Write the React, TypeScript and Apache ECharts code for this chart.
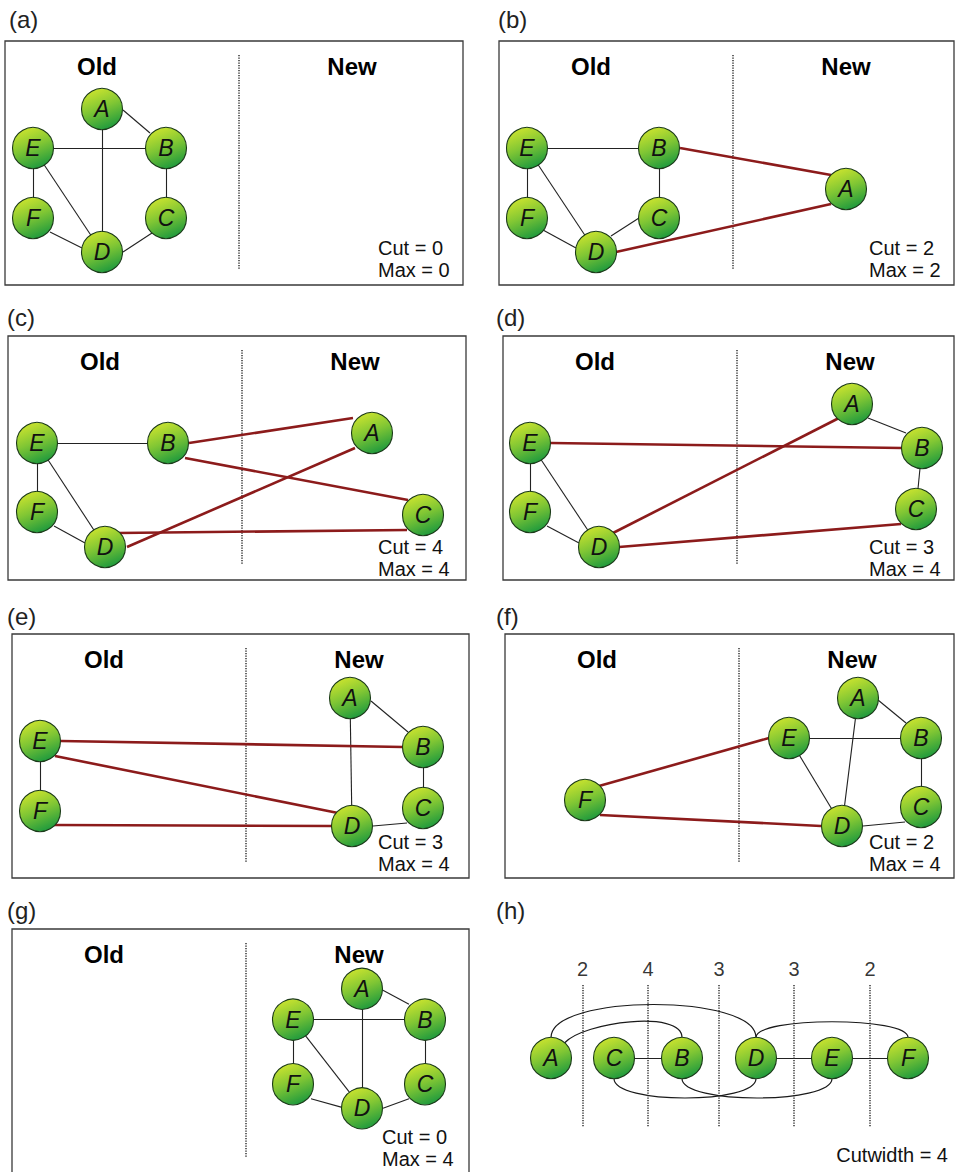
import React, { useEffect, useRef } from "react";
import * as echarts from "echarts";

// ---------- data ----------
type NodePos = [string, number, number];

const panelLabels = ["(a)", "(b)", "(c)", "(d)", "(e)", "(f)", "(g)", "(h)"];
const sideLabels = ["Old", "New"];
const edges: [string, string][] = [
  ["A", "B"], ["A", "D"], ["B", "E"], ["B", "C"],
  ["C", "D"], ["D", "E"], ["D", "F"], ["E", "F"],
];
// node positions inside each panel (panel-local units)
const nodesA: NodePos[] = [["A", 97, 68], ["B", 161, 107], ["C", 161, 177], ["D", 97, 211], ["E", 28, 107], ["F", 28, 177]];
const nodesB: NodePos[] = [["A", 347, 148], ["B", 160, 107], ["C", 160, 177], ["D", 97, 211], ["E", 28, 107], ["F", 28, 177]];
const nodesC: NodePos[] = [["A", 364, 97], ["B", 160, 107], ["C", 415, 179], ["D", 97, 211], ["E", 29, 107], ["F", 29, 176]];
const nodesD: NodePos[] = [["A", 349, 68], ["B", 419, 112], ["C", 413, 173], ["D", 96, 211], ["E", 27, 107], ["F", 27, 176]];
const nodesE: NodePos[] = [["A", 338, 64], ["B", 411, 113], ["C", 411, 174], ["D", 340, 192], ["E", 28, 107], ["F", 28, 177]];
const nodesF: NodePos[] = [["A", 353, 64], ["B", 416, 104], ["C", 416, 173], ["D", 337, 192], ["E", 284, 104], ["F", 80, 166]];
const nodesG: NodePos[] = [["A", 350, 62], ["B", 413, 94], ["C", 413, 161], ["D", 350, 186], ["E", 281, 94], ["F", 281, 161]];
const panelNodes = [nodesA, nodesB, nodesC, nodesD, nodesE, nodesF, nodesG];
// nodes already moved to the "New" side in each step
const newSides: string[][] = [[], ["A"], ["A", "C"], ["A", "B", "C"], ["A", "B", "C", "D"], ["A", "B", "C", "D", "E"], ["A", "B", "C", "D", "E", "F"]];
const cutValues = [0, 2, 4, 3, 3, 2, 0];
const maxValues = [0, 2, 4, 4, 4, 4, 4];
// panel (h): linear arrangement
const linearOrder = ["A", "C", "B", "D", "E", "F"];
const linearX = [75, 138, 206, 280, 356, 432];
const linearY = 168;
const cutCounts = [2, 4, 3, 3, 2];
const cutwidth = 4;

// ---------- layout / style ----------
const FONT = '"Liberation Sans", Arial, Helvetica, sans-serif';
const W = 956;
const H = 1172;
const NODE_R = 20.5;
// [left, top, width, height] of each panel frame
const frames: number[][] = [
  [5, 41, 458, 244], [499, 41, 455, 244],
  [8, 336, 458, 244], [503, 336, 451, 244],
  [12, 634, 457, 244], [505, 634, 449, 244],
  [12, 929, 457, 252], [476, 890, 480, 282],
];
const labelPos = [[9, 19], [498, 19], [7, 317], [496, 317], [7, 616], [496, 616], [7, 910], [496, 910]];
const cutTextPos = [[378, 248], [869, 248], [378, 547], [869, 547], [378, 842], [869, 842], [382, 1137]];
const DIV_X = 234, DIV_Y0 = 14, DIV_Y1 = 228;
const OLD_X = 92, NEW_X = 347, SIDE_Y = 25;
const H_DIV_Y0 = 95, H_DIV_Y1 = 237, H_NUM_Y = 79;
// connector attachment offsets (px from node centre), per panel and edge
const ports: Record<string, number[][]> = {
  "0:A-B": [[21, 1], [-16, -15]], "0:C-D": [[-14, 15], [21, 0]], "0:D-F": [[-20, -4], [17, 14]],
  "1:A-B": [[-15, -14], [21, 0]], "1:A-D": [[-15, 15], [20, 0]], "1:C-D": [[-20, 0], [15, -16]], "1:D-F": [[-20, -4], [16, 12]],
  "2:A-B": [[-19, -15], [21, 0]], "2:A-D": [[-17, 15], [22, 0]], "2:B-C": [[17, 15], [-15, -15]], "2:C-D": [[-16, 15], [13, -14]], "2:D-F": [[-20, -4], [17, 14]],
  "3:A-D": [[-13, 14], [14, -14]], "3:C-D": [[-15, 15], [20, 0]], "3:B-E": [[-20, 0], [21, 0]], "3:A-B": [[16, 14], [-16, -15]], "3:D-F": [[-20, -4], [17, 14]],
  "4:B-E": [[-20, 0], [21, 0]], "4:D-E": [[-14, -13], [15, 15]], "4:D-F": [[-20, 0], [13, 14]], "4:C-D": [[-16, 15], [21, 0]], "4:A-B": [[21, 3], [-15, -15]],
  "5:E-F": [[-20, 0], [14, -14]], "5:D-F": [[-21, 0], [15, 15]], "5:C-D": [[-16, 15], [21, 0]], "5:A-B": [[20, 2], [-15, -15]],
  "6:A-B": [[20, 1], [-16, -16]], "6:C-D": [[-16, 15], [21, 0]], "6:D-F": [[-20, -1], [18, 15]],
};
const arcStyles: Record<string, { dir: number; lift: number; a0: number; a1: number }> = {
  "A-B": { dir: -1, lift: 28, a0: 48, a1: 90 },
  "A-D": { dir: -1, lift: 44, a0: 90, a1: 90 },
  "D-F": { dir: -1, lift: 21, a0: 90, a1: 90 },
  "C-D": { dir: 1, lift: 26, a0: 90, a1: 90 },
  "B-E": { dir: 1, lift: 26, a0: 90, a1: 90 },
};
const BLACK_EDGE = { color: "#222", width: 1.1, opacity: 1 };
const RED_EDGE = { color: "#8c1b1b", width: 2.6, opacity: 1 };

function nodeColor() {
  return new echarts.graphic.LinearGradient(0.2, 0, 0.6, 1, [
    { offset: 0, color: "#d2e62e" },
    { offset: 0.5, color: "#80c634" },
    { offset: 1, color: "#1f9a3d" },
  ]);
}

function nodeSeries(idx: number, data: any[]) {
  return {
    type: "scatter",
    xAxisIndex: idx,
    yAxisIndex: idx,
    symbol: "circle",
    symbolSize: NODE_R * 2,
    z: 5,
    silent: true,
    clip: false,
    itemStyle: { color: nodeColor(), borderColor: "#1b3a19", borderWidth: 1.1, opacity: 1 },
    label: {
      show: true,
      position: "inside",
      formatter: "{b}",
      fontStyle: "italic",
      fontSize: 23,
      color: "#111",
      fontFamily: FONT,
    },
    data,
  };
}

function buildOption() {
  const grid: any[] = [];
  const xAxis: any[] = [];
  const yAxis: any[] = [];
  frames.forEach(([l, t, w, h], i) => {
    grid.push({ left: l, top: t, width: w, height: h, show: false });
    xAxis.push({ type: "value", gridIndex: i, min: 0, max: w, show: false, splitLine: { show: false } });
    yAxis.push({ type: "value", gridIndex: i, min: 0, max: h, inverse: true, show: false, splitLine: { show: false } });
  });

  const series: any[] = [];
  const graphic: any[] = [];

  // panels (a)-(g)
  panelNodes.forEach((nodes, i) => {
    const pos: Record<string, number[]> = {};
    nodes.forEach(([n, x, y]) => (pos[n] = [x, y]));
    const isNew = (n: string) => newSides[i].includes(n);
    series.push({
      type: "lines",
      coordinateSystem: "cartesian2d",
      xAxisIndex: i,
      yAxisIndex: i,
      z: 2,
      silent: true,
      clip: false,
      data: edges.map(([s, t]) => {
        const pt = ports[`${i}:${s}-${t}`] || [[0, 0], [0, 0]];
        return {
          coords: [
            [pos[s][0] + pt[0][0], pos[s][1] + pt[0][1]],
            [pos[t][0] + pt[1][0], pos[t][1] + pt[1][1]],
          ],
          lineStyle: isNew(s) !== isNew(t) ? RED_EDGE : BLACK_EDGE,
        };
      }),
    });
    series.push(nodeSeries(i, nodes.map(([n, x, y]) => ({ name: n, value: [x, y] }))));

    const [l, t, w, h] = frames[i];
    graphic.push({
      type: "rect",
      shape: { x: l, y: t, width: w, height: h },
      style: { fill: "none", stroke: "#3a3a3a", lineWidth: 1.3 },
      z: 0,
    });
    graphic.push({
      type: "line",
      shape: { x1: l + DIV_X, y1: t + DIV_Y0, x2: l + DIV_X, y2: t + DIV_Y1 },
      style: { stroke: "#333", lineWidth: 1.5, lineDash: [1.3, 1.2] },
    });
    [OLD_X, NEW_X].forEach((sx, k) => {
      graphic.push({
        type: "text",
        x: l + sx,
        y: t + SIDE_Y,
        style: {
          text: sideLabels[k],
          font: `bold 24px ${FONT}`,
          fill: "#000",
          textAlign: "center",
          textVerticalAlign: "middle",
        },
      });
    });
    const [cx, cy] = cutTextPos[i];
    graphic.push({
      type: "text",
      x: cx,
      y: cy,
      style: { text: `Cut = ${cutValues[i]}`, font: `20px ${FONT}`, fill: "#111", textAlign: "left", textVerticalAlign: "middle" },
    });
    graphic.push({
      type: "text",
      x: cx,
      y: cy + 22,
      style: { text: `Max = ${maxValues[i]}`, font: `20px ${FONT}`, fill: "#111", textAlign: "left", textVerticalAlign: "middle" },
    });
  });

  // panel (h)
  const hi = 7;
  const hpos: Record<string, number[]> = {};
  linearOrder.forEach((n, k) => (hpos[n] = [linearX[k], linearY]));
  const rank = (n: string) => linearOrder.indexOf(n);
  const straight = edges.filter(([s, t]) => Math.abs(rank(s) - rank(t)) === 1);
  const arcs = edges
    .filter(([s, t]) => Math.abs(rank(s) - rank(t)) > 1)
    .map(([s, t]) => (rank(s) < rank(t) ? [s, t] : [t, s]));
  const arcList = arcs.map(([s, t]) => arcStyles[`${s}-${t}`] || arcStyles[`${t}-${s}`]);
  const mids = linearX.slice(1).map((x, k) => (x + linearX[k]) / 2);

  series.push({
    type: "lines",
    coordinateSystem: "cartesian2d",
    xAxisIndex: hi,
    yAxisIndex: hi,
    z: 2,
    silent: true,
    clip: false,
    data: straight.map(([s, t]) => ({ coords: [hpos[s], hpos[t]], lineStyle: BLACK_EDGE })),
  });
  series.push({
    type: "custom",
    xAxisIndex: hi,
    yAxisIndex: hi,
    z: 2,
    silent: true,
    clip: false,
    encode: { x: [0, 2], y: [1, 3] },
    data: arcs.map(([s, t]) => [hpos[s][0], hpos[s][1], hpos[t][0], hpos[t][1]]),
    renderItem: (params: any, api: any) => {
      const st = arcList[params.dataIndex];
      const c1 = api.coord([api.value(0), api.value(1)]);
      const c2 = api.coord([api.value(2), api.value(3)]);
      const r0 = (st.a0 * Math.PI) / 180;
      const r1 = (st.a1 * Math.PI) / 180;
      const d0 = [Math.cos(r0), st.dir * Math.sin(r0)];
      const d1 = [Math.cos(r1), st.dir * Math.sin(r1)];
      const p1 = [c1[0] + NODE_R * d0[0], c1[1] + NODE_R * d0[1]];
      const p2 = [c2[0] + NODE_R * d1[0], c2[1] + NODE_R * d1[1]];
      return {
        type: "bezierCurve",
        shape: {
          x1: p1[0], y1: p1[1], x2: p2[0], y2: p2[1],
          cpx1: p1[0] + st.lift * d0[0], cpy1: p1[1] + st.lift * d0[1],
          cpx2: p2[0] + st.lift * d1[0], cpy2: p2[1] + st.lift * d1[1],
        },
        style: { stroke: "#1a1a1a", fill: "none", lineWidth: 1.2 },
      };
    },
  });
  series.push({
    type: "lines",
    coordinateSystem: "cartesian2d",
    xAxisIndex: hi,
    yAxisIndex: hi,
    z: 1,
    silent: true,
    clip: false,
    data: mids.map((m) => ({
      coords: [[m, H_DIV_Y0], [m, H_DIV_Y1]],
      lineStyle: { color: "#333", width: 1.5, type: [1.3, 1.2], opacity: 1 },
    })),
  });
  series.push({
    type: "scatter",
    xAxisIndex: hi,
    yAxisIndex: hi,
    symbolSize: 1,
    silent: true,
    clip: false,
    itemStyle: { color: "rgba(0,0,0,0)" },
    label: { show: true, position: "inside", formatter: "{b}", fontSize: 20, color: "#000", fontFamily: FONT },
    data: mids.map((m, k) => ({ name: String(cutCounts[k]), value: [m, H_NUM_Y] })),
  });
  series.push(nodeSeries(hi, linearOrder.map((n, k) => ({ name: n, value: [linearX[k], linearY] }))));

  graphic.push({
    type: "text",
    x: 948,
    y: 1155,
    style: { text: `Cutwidth = ${cutwidth}`, font: `20px ${FONT}`, fill: "#111", textAlign: "right", textVerticalAlign: "middle" },
  });

  panelLabels.forEach((lab, i) => {
    const [x, y] = labelPos[i];
    graphic.push({
      type: "text",
      x,
      y,
      style: { text: lab, font: `24px ${FONT}`, fill: "#222", textAlign: "left", textVerticalAlign: "middle" },
    });
  });

  return {
    animation: false,
    backgroundColor: "#fff",
    grid,
    xAxis,
    yAxis,
    series,
    graphic: { elements: graphic },
  };
}

export default function App() {
  const ref = useRef<HTMLDivElement>(null);
  useEffect(() => {
    document.body.style.margin = "0";
    if (!ref.current) return;
    const chart = echarts.init(ref.current, undefined, { renderer: "svg", width: W, height: H });
    chart.setOption(buildOption() as any);
    return () => chart.dispose();
  }, []);
  return <div ref={ref} style={{ width: W, height: H }} />;
}
